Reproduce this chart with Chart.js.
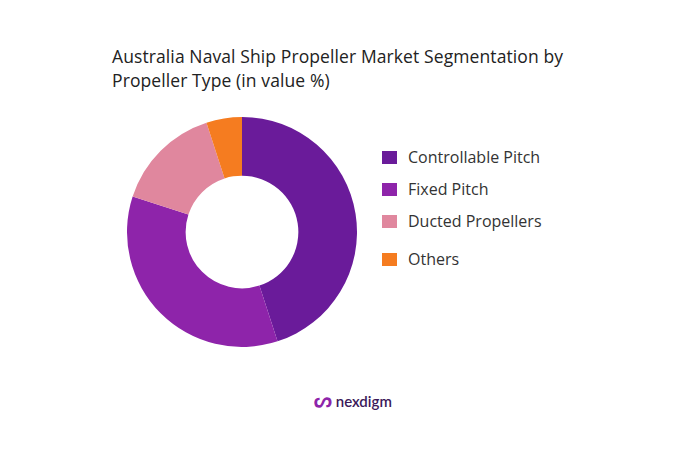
<!DOCTYPE html>
<html><head><meta charset="utf-8">
<script src="https://cdn.jsdelivr.net/npm/chart.js@4.4.0/dist/chart.umd.min.js"></script>
<style>
body{margin:0;width:699px;height:450px;background:#fff;font-family:"Open Sans",sans-serif;position:relative;overflow:hidden}
#title{position:absolute;left:112px;top:44px;font-size:17.5px;line-height:24px;color:#222;letter-spacing:0.1px}
#wrap{position:absolute;left:127px;top:117px;width:230px;height:230px}
#legend{position:absolute;left:382px;top:141px;font-size:16px;color:#333}
.item{display:flex;align-items:center;height:32px}
.sw{width:15px;height:13px;margin-right:11px}
#logo{position:absolute;left:314px;top:387px;font-size:15px;font-weight:600;color:#3b1a5a;font-family:Lato,sans-serif}
</style></head><body>
<div id="title">Australia Naval Ship Propeller Market Segmentation by<br>Propeller Type (in value %)</div>
<div id="wrap"><canvas id="c"></canvas></div>
<div id="legend"></div>
<div id="logo"><span style="color:#8e24aa;font-size:20px">ᔕ</span> nexdigm</div>
<script>
const labels = ["Controllable Pitch", "Fixed Pitch", "Ducted Propellers", "Others"];
const values = [45, 35, 15, 5];
const colors = ["#6a1b9a", "#8e24aa", "#e0879e", "#f57c20"];

const lg = document.getElementById("legend");
labels.forEach((l, i) => {
  const extra = i === 3 ? "margin-top:6px;" : "";
  lg.innerHTML += `<div class="item" style="${extra}"><div class="sw" style="background:${colors[i]}"></div>${l}</div>`;
});

new Chart(document.getElementById("c"), {
  type: "doughnut",
  data: { labels, datasets: [{ data: values, backgroundColor: colors, borderWidth: 0 }] },
  options: {
    responsive: true, maintainAspectRatio: false, animation: false,
    cutout: "49%",
    plugins: { legend: { display: false }, tooltip: { enabled: false } }
  }
});
</script>
</body></html>
